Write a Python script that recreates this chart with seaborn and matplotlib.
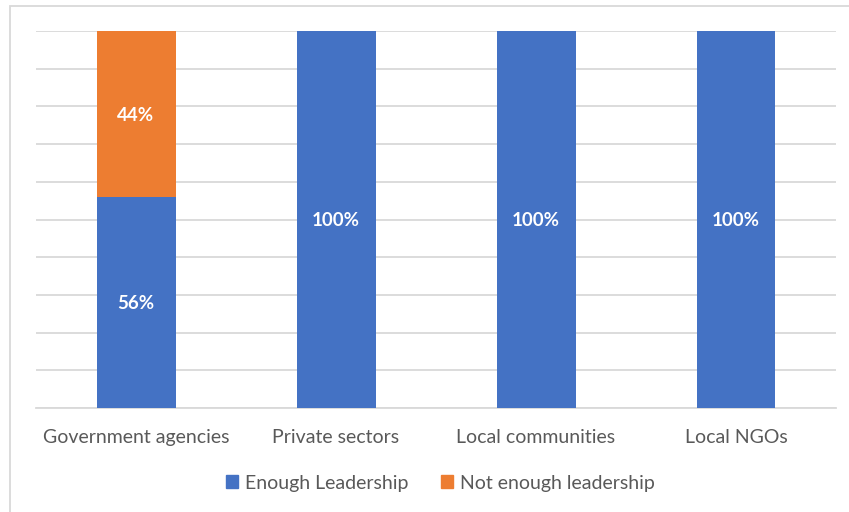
import matplotlib
matplotlib.use("Agg")
import matplotlib.pyplot as plt
import matplotlib.patches as mpatches
import seaborn as sns
import pandas as pd

categories = ["Government agencies", "Private sectors", "Local communities", "Local NGOs"]
enough = [56, 100, 100, 100]
not_enough = [44, 0, 0, 0]

BLUE = "#4472C4"
ORANGE = "#ED7D31"
GRID = "#D9D9D9"
TEXT = "#595959"

sns.set_style("white")
plt.rcParams["font.family"] = ["Lato", "DejaVu Sans"]

df = pd.DataFrame({"category": categories, "enough": enough, "not_enough": not_enough})
df["total"] = df["enough"] + df["not_enough"]

fig = plt.figure(figsize=(8.49, 5.12), dpi=100)
ax = fig.add_axes([36 / 849, 104 / 512, 800 / 849, 377 / 512])

# stacked bars: draw total in orange, then the lower part in blue on top
sns.barplot(data=df, x="category", y="total", color=ORANGE, width=0.395,
            saturation=1, linewidth=0, ax=ax, zorder=3)
sns.barplot(data=df, x="category", y="enough", color=BLUE, width=0.395,
            saturation=1, linewidth=0, ax=ax, zorder=4)

ax.set_ylim(0, 100)
ax.set_xlim(-0.5, 3.5)
ax.set_yticks(range(0, 101, 10))
ax.yaxis.grid(True, color=GRID, linewidth=1.3, zorder=0)
ax.set_axisbelow(True)
ax.set_yticklabels([])
ax.tick_params(axis="y", length=0)
ax.tick_params(axis="x", length=0, pad=15, labelsize=14, labelcolor=TEXT)
ax.set_xlabel("")
ax.set_ylabel("")
for side in ["top", "right", "left"]:
    ax.spines[side].set_visible(False)
ax.spines["bottom"].set_color(GRID)
ax.spines["bottom"].set_linewidth(1.3)

for i, (e, n) in enumerate(zip(enough, not_enough)):
    if e > 0:
        ax.text(i, e / 2, f"{e}%", ha="center", va="center_baseline", color="white",
                fontsize=13.5, fontweight="bold", zorder=5)
    if n > 0:
        ax.text(i, e + n / 2, f"{n}%", ha="center", va="center_baseline", color="white",
                fontsize=13.5, fontweight="bold", zorder=5)

handles = [mpatches.Patch(color=BLUE, label="Enough Leadership"),
           mpatches.Patch(color=ORANGE, label="Not enough leadership")]
fig.legend(handles=handles, loc="center", bbox_to_anchor=(0.519, 29 / 512), ncol=2,
           frameon=False, fontsize=14, labelcolor=TEXT, handlelength=0.6,
           handleheight=0.6, handletextpad=0.35, columnspacing=1.7)

# light chart-area border
fig.patches.append(mpatches.Rectangle((10 / 849, -0.1), 1.2, 1 - 6 / 512 + 0.1,
                                      transform=fig.transFigure, fill=False,
                                      edgecolor=GRID, linewidth=1.3))

fig.savefig("out.png", dpi=100)
